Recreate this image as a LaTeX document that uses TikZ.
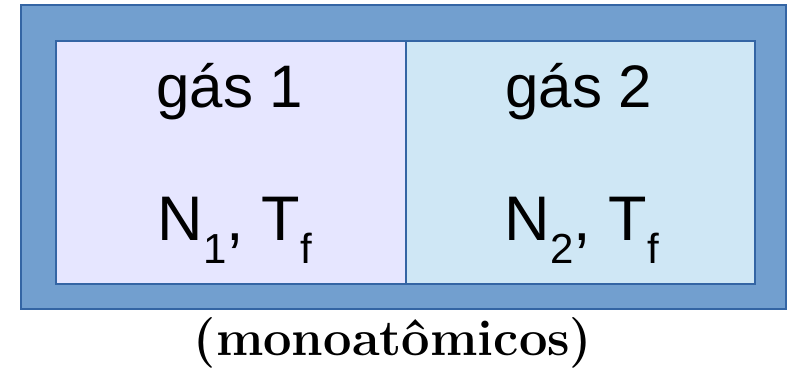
\documentclass[tikz,border=0pt]{standalone}
\usepackage{fontspec}
\newfontfamily\arialfont{Liberation Sans}
\usetikzlibrary{positioning}

\definecolor{wallblue}{HTML}{729FCF}
\definecolor{edgeblue}{HTML}{3465A4}
\definecolor{lilac}{HTML}{E6E6FF}
\definecolor{paleblue}{HTML}{CFE7F5}

\newcommand{\subidx}[1]{\raisebox{-23pt}{\fontsize{42}{42}\selectfont #1}}

\begin{document}
\begin{tikzpicture}[
        x = 1pt, y = -1pt,
        wall/.style = {draw = edgeblue, line width = 2pt, fill = wallblue},
        chamber/.style = {draw = edgeblue, line width = 2pt, inner sep = 0pt,
                          minimum height = 243pt, anchor = north west},
        gaslabel/.style = {font = \arialfont\fontsize{60}{60}\selectfont,
                           anchor = base, inner sep = 0pt},
        statelabel/.style = {font = \arialfont\fontsize{63}{63}\selectfont,
                             anchor = base, inner sep = 0pt},
        note/.style = {font = \bfseries\fontsize{50.6}{51}\selectfont,
                       anchor = base, inner sep = 0pt}
    ]

    \useasboundingbox (0,0) rectangle (787,367);

    % container wall
    \draw[wall] (21,5) rectangle (786,309);

    % the two chambers
    \node[chamber, fill = lilac, minimum width = 350pt] (left) at (55,40) {};
    \node[chamber, fill = paleblue, minimum width = 349pt] (right) at (405,40) {};

    \node[gaslabel] (gas1) at (230,107) {gás 1};
    \node[gaslabel] (gas2) at (579,107) {gás 2};

    \node[statelabel] (state1) at (235,240) {N\subidx{1}, T\subidx{f}};
    \node[statelabel] (state2) at (582,240) {N\subidx{2}, T\subidx{f}};

    \node[note] (kind) at (393,355) {(monoatômicos)};

\end{tikzpicture}
\end{document}
